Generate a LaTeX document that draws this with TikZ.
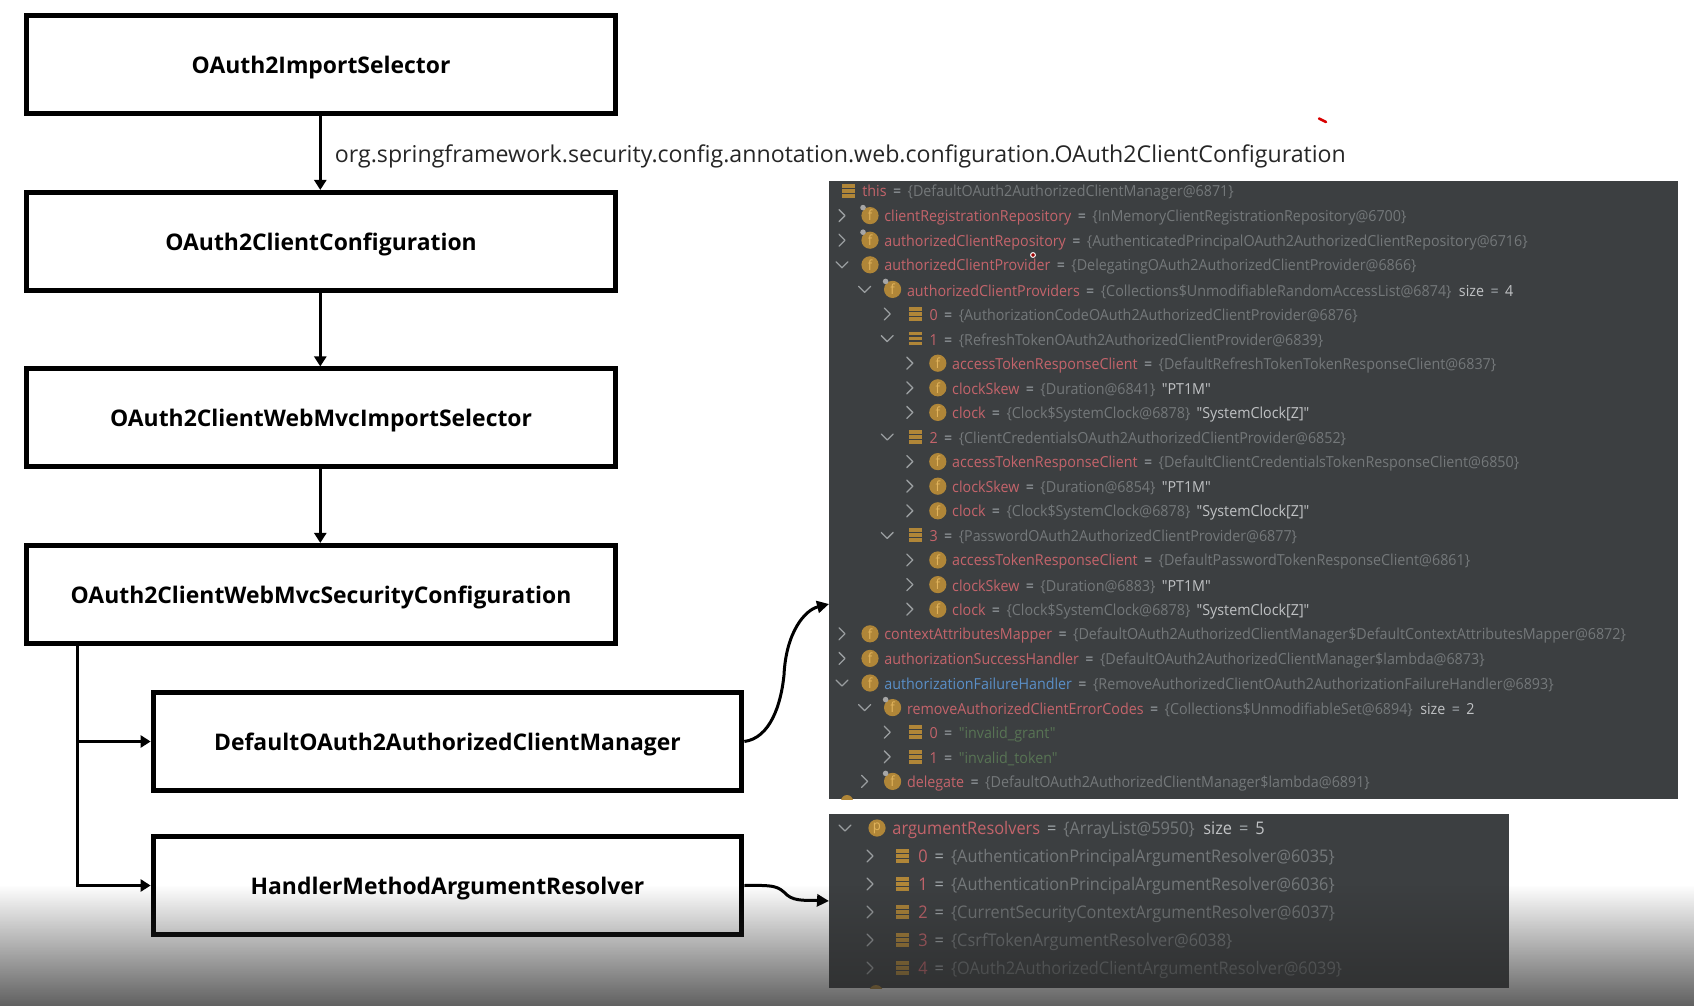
\documentclass[tikz,border=0pt]{standalone}
\usepackage{fontspec}
\setmainfont{Open Sans}
\newfontfamily\dbgfont[FakeStretch=0.94]{Open Sans}
\newfontfamily\capfont{Open Sans}
\usetikzlibrary{arrows.meta,calc,fadings}
\definecolor{panelc}{HTML}{3C3F41}
\definecolor{namec}{HTML}{C4646B}
\definecolor{bluec}{HTML}{5A8FC8}
\definecolor{valc}{HTML}{74787A}
\definecolor{eqc}{HTML}{A5ABAF}
\definecolor{strc}{HTML}{C0C2C4}
\definecolor{grnc}{HTML}{587454}
\definecolor{icoc}{HTML}{B08638}
\definecolor{icof}{HTML}{E2B45C}
\definecolor{chevc}{HTML}{9A9EA0}
\definecolor{shadec}{HTML}{2B2B2B}
\tikzfading[name=bottomfade,top color=transparent!100,bottom color=transparent!25]
\tikzset{
  flowbox/.style={draw=black,line width=2.5pt,fill=white,minimum width=294.35pt,minimum height=48.85pt,inner sep=0pt,font=\bfseries\fontsize{11.45}{14}\selectfont},
  subbox/.style={flowbox},
  arr/.style={draw=black,line width=1.6pt,-{Triangle[length=5pt,width=6pt]}},
  curvearr/.style={draw=black,line width=1.5pt,-{Triangle[length=6pt,width=6pt]}},
  panel/.style={fill=panelc,draw=none,inner sep=0pt,anchor=north west},
  chev/.style={draw=chevc,line width=0.65pt,line join=round,line cap=round},
  rowtxt/.style={anchor=west,inner sep=0pt,text=valc},
  toprow/.style={rowtxt,font=\dbgfont\fontsize{7.6}{9}\selectfont},
  lowrow/.style={rowtxt,font=\dbgfont\fontsize{8.7}{10}\selectfont},
  ico/.style={circle,fill=icoc,text=icof,minimum size=8.6pt,inner sep=0pt,font=\dbgfont\fontsize{7}{8}\selectfont},
}
\newcommand{\bl}[1]{\raisebox{-1.5pt}[\height][\depth]{#1}}
\newcommand{\nm}[1]{\textcolor{namec}{#1}}
\newcommand{\bnm}[1]{\textcolor{bluec}{#1}}
\newcommand{\eq}{\hspace{1.35pt}\textcolor{eqc}{=}\hspace{1.35pt}}
\newcommand{\st}[1]{\textcolor{strc}{#1}}
\newcommand{\gn}[1]{\textcolor{grnc}{#1}}
\newcommand{\dbchevr}[2]{\draw[chev] ($(#1,#2)+(-3,-6)$)--($(#1,#2)+(3,0)$)--($(#1,#2)+(-3,6)$);}
\newcommand{\dbchevd}[2]{\draw[chev] ($(#1,#2)+(-6,-3)$)--($(#1,#2)+(0,3)$)--($(#1,#2)+(6,-3)$);}
\newcommand{\dbiconf}[3]{\node[ico] (ic#3) at (#1,#2) {f};}
\newcommand{\dbicons}[3]{\node[ico] (ic#3) at (#1,#2) {f};\fill[gray!70!white] ($(#1,#2)+(-7,-8)$) circle[radius=2.8];}
\newcommand{\dbiconp}[3]{\node[ico] (ic#3) at (#1,#2) {p};}
\newcommand{\dbiconh}[3]{\foreach \bb in {-7,-2,3}{\fill[icoc] ($(#1,#2)+(-6.5,\bb)$) rectangle ++(13,3.8);}}
% id, chevron, icon, level, row, text
\newcommand{\dbrow}[6]{%
  \pgfmathsetmacro{\cx}{842+22.6*#4}\pgfmathsetmacro{\ix}{870+22.6*#4}\pgfmathsetmacro{\tx}{884+22.6*#4}\pgfmathsetmacro{\ry}{191+24.6*#5}%
  \csname dbchev#2\endcsname{\cx}{\ry}%
  \csname dbicon#3\endcsname{\ix}{\ry}{#1}%
  \node[toprow] (#1) at (\tx,\ry+2) {#6};}
\newcommand{\lwrow}[6]{%
  \pgfmathsetmacro{\cx}{845+25*#4}\pgfmathsetmacro{\ix}{877+25*#4}\pgfmathsetmacro{\tx}{892+26*#4}\pgfmathsetmacro{\ry}{828+28*#5}%
  \csname dbchev#2\endcsname{\cx}{\ry}%
  \csname dbicon#3\endcsname{\ix}{\ry}{#1}%
  \node[lowrow] (#1) at (\tx,\ry+2) {#6};}
\begin{document}
\begin{tikzpicture}[x=0.5pt,y=-0.5pt]
\useasboundingbox (0,0) rectangle (1696,1006);
\fill[white] (0,0) rectangle (1696,1006);

% flow boxes
\node[flowbox] (b1) at (321.1,64.3) {\bl{OAuth2ImportSelector}};
\node[flowbox] (b2) at (321.1,241.3) {\bl{OAuth2ClientConfiguration}};
\node[flowbox] (b3) at (321.1,417.8) {\bl{OAuth2ClientWebMvcImportSelector}};
\node[flowbox] (b4) at (321.1,594.3) {\bl{OAuth2ClientWebMvcSecurityConfiguration}};
\node[subbox] (b5) at (447.5,741.5) {\bl{DefaultOAuth2AuthorizedClientManager}};
\node[subbox] (b6) at (447.5,885.5) {\bl{HandlerMethodArgumentResolver}};

\draw[arr] ([xshift=-0.4pt]b1.south) -- ([xshift=-0.4pt]b2.north);
\draw[arr] ([xshift=-0.4pt]b2.south) -- ([xshift=-0.4pt]b3.north);
\draw[arr] ([xshift=-0.4pt]b3.south) -- ([xshift=-0.4pt]b4.north);
\coordinate (trunk) at ($(b4.south west)+(53,-2)$);
\draw[arr] (trunk) |- (b5.west);
\draw[arr] (trunk) |- (b6.west);

\node[anchor=west,inner sep=0pt,font=\capfont\fontsize{11.58}{14}\selectfont,text=black!85] (cap) at (334.5,156.5) {org.springframework.security.config.annotation.web.configuration.OAuth2ClientConfiguration};

% debugger panels
\node[panel,minimum width=424.5pt,minimum height=309pt] (pa) at (829,181) {};
\node[panel,minimum width=340pt,minimum height=87pt] (pb) at (829,814) {};
\begin{scope}
\clip (pa.north west) rectangle (pa.south east);
\fill[icoc] (847,801) circle[radius=6];
\end{scope}
\begin{scope}
\clip (pb.north west) rectangle (pb.south east);
\fill[icoc] (876,992) circle[radius=7];
\end{scope}

\coordinate (paIn) at (pa.north west |- 0,604);
\coordinate (pbIn) at (pb.north west |- 0,901);
\draw[curvearr] (b5.east) .. controls (770,738) and (781,705) .. (784,675) .. controls (786,632) and (805,610) .. (paIn);
\draw[curvearr] (b6.east) .. controls (775,885) and (778,886) .. (787,895) .. controls (795,902) and (810,900) .. (pbIn);

% top panel rows
\dbiconh{848}{191}{this}
\node[toprow] (r0) at (862,193) {\nm{this} \eq{} \{DefaultOAuth2AuthorizedClientManager@6871\}};
\dbrow{r1}{r}{s}{0}{1}{\nm{clientRegistrationRepository} \eq{} \{InMemoryClientRegistrationRepository@6700\}}
\dbrow{r2}{r}{s}{0}{2}{\nm{authorizedClientRepository} \eq{} \{AuthenticatedPrincipalOAuth2AuthorizedClientRepository@6716\}}
\dbrow{r3}{d}{f}{0}{3}{\nm{authorizedClientProvider} \eq{} \{DelegatingOAuth2AuthorizedClientProvider@6866\}}
\dbrow{r4}{d}{s}{1}{4}{\nm{authorizedClientProviders} \eq{} \{Collections\$UnmodifiableRandomAccessList@6874\}\ \ \st{size \eq{} 4}}
\dbrow{r5}{r}{h}{2}{5}{\nm{0} \eq{} \{AuthorizationCodeOAuth2AuthorizedClientProvider@6876\}}
\dbrow{r6}{d}{h}{2}{6}{\nm{1} \eq{} \{RefreshTokenOAuth2AuthorizedClientProvider@6839\}}
\dbrow{r7}{r}{f}{3}{7}{\nm{accessTokenResponseClient} \eq{} \{DefaultRefreshTokenTokenResponseClient@6837\}}
\dbrow{r8}{r}{f}{3}{8}{\nm{clockSkew} \eq{} \{Duration@6841\} \,\st{"PT1M"}}
\dbrow{r9}{r}{f}{3}{9}{\nm{clock} \eq{} \{Clock\$SystemClock@6878\} \,\st{"SystemClock[Z]"}}
\dbrow{r10}{d}{h}{2}{10}{\nm{2} \eq{} \{ClientCredentialsOAuth2AuthorizedClientProvider@6852\}}
\dbrow{r11}{r}{f}{3}{11}{\nm{accessTokenResponseClient} \eq{} \{DefaultClientCredentialsTokenResponseClient@6850\}}
\dbrow{r12}{r}{f}{3}{12}{\nm{clockSkew} \eq{} \{Duration@6854\} \,\st{"PT1M"}}
\dbrow{r13}{r}{f}{3}{13}{\nm{clock} \eq{} \{Clock\$SystemClock@6878\} \,\st{"SystemClock[Z]"}}
\dbrow{r14}{d}{h}{2}{14}{\nm{3} \eq{} \{PasswordOAuth2AuthorizedClientProvider@6877\}}
\dbrow{r15}{r}{f}{3}{15}{\nm{accessTokenResponseClient} \eq{} \{DefaultPasswordTokenResponseClient@6861\}}
\dbrow{r16}{r}{f}{3}{16}{\nm{clockSkew} \eq{} \{Duration@6883\} \,\st{"PT1M"}}
\dbrow{r17}{r}{f}{3}{17}{\nm{clock} \eq{} \{Clock\$SystemClock@6878\} \,\st{"SystemClock[Z]"}}
\dbrow{r18}{r}{f}{0}{18}{\nm{contextAttributesMapper} \eq{} \{DefaultOAuth2AuthorizedClientManager\$DefaultContextAttributesMapper@6872\}}
\dbrow{r19}{r}{f}{0}{19}{\nm{authorizationSuccessHandler} \eq{} \{DefaultOAuth2AuthorizedClientManager\$lambda@6873\}}
\dbrow{r20}{d}{f}{0}{20}{\bnm{authorizationFailureHandler} \eq{} \{RemoveAuthorizedClientOAuth2AuthorizationFailureHandler@6893\}}
\dbrow{r21}{d}{s}{1}{21}{\nm{removeAuthorizedClientErrorCodes} \eq{} \{Collections\$UnmodifiableSet@6894\}\ \ \st{size \eq{} 2}}
\dbrow{r22}{r}{h}{2}{22}{\nm{0} \eq{} \gn{"invalid\_grant"}}
\dbrow{r23}{r}{h}{2}{23}{\nm{1} \eq{} \gn{"invalid\_token"}}
\dbrow{r24}{r}{s}{1}{24}{\nm{delegate} \eq{} \{DefaultOAuth2AuthorizedClientManager\$lambda@6891\}}

% lower panel rows
\lwrow{s0}{d}{p}{0}{0}{\nm{argumentResolvers} \eq{} \{ArrayList@5950\}\ \ \st{size \eq{} 5}}
\lwrow{s1}{r}{h}{1}{1}{\nm{0} \eq{} \{AuthenticationPrincipalArgumentResolver@6035\}}
\lwrow{s2}{r}{h}{1}{2}{\nm{1} \eq{} \{AuthenticationPrincipalArgumentResolver@6036\}}
\lwrow{s3}{r}{h}{1}{3}{\nm{2} \eq{} \{CurrentSecurityContextArgumentResolver@6037\}}
\lwrow{s4}{r}{h}{1}{4}{\nm{3} \eq{} \{CsrfTokenArgumentResolver@6038\}}
\lwrow{s5}{r}{h}{1}{5}{\nm{4} \eq{} \{OAuth2AuthorizedClientArgumentResolver@6039\}}

% cursor and stray pen mark
\filldraw[draw=white,fill=red!60!black,line width=0.5pt] (1033,255) circle[radius=2.4];
\draw[red!85!black,line width=1.3pt,line cap=round] (1319,118.5) -- (1326,122);

% darkening at the bottom edge
\fill[shadec,path fading=bottomfade] (0,885) rectangle (1696,1006);
\end{tikzpicture}
\end{document}
